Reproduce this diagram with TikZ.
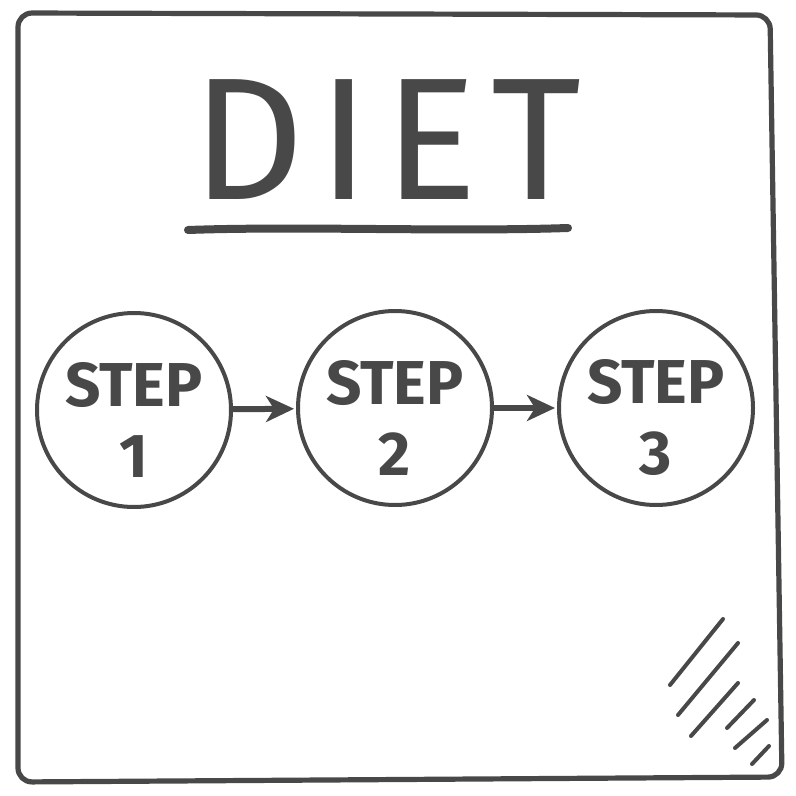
\documentclass[tikz,border=0pt]{standalone}
\usepackage{fontspec}
\setmainfont{Fira Sans}
\usepackage{tikz}
\usetikzlibrary{arrows, arrows.meta, positioning}
\usepackage{xcolor}
\definecolor{pencil}{HTML}{484848}

\begin{document}
\begin{tikzpicture}[x=0.5pt,y=-0.5pt,line cap=round,line join=round,
		steplabel/.style={text=pencil,font=\fontsize{31}{35.5}\selectfont\bfseries,align=center,yshift=-5pt},
		stepcircle/.style={circle,draw=pencil,line width=2pt,minimum size=97pt,inner sep=0pt,label={[steplabel]center:#1}},
		steparrow/.style={draw=pencil,line width=3pt,-{Stealth[length=14pt,width=13pt,inset=4pt]},shorten >=1pt},
		hatch/.style={draw=pencil,line width=2pt}]
				\useasboundingbox (0,0) rectangle (796,796);
				\draw[pencil,line width=2.6pt,rounded corners=7pt] (18,13) -- (770,15) -- (782,777) -- (18,782) -- cycle;
				\node[anchor=base,text=pencil,font=\fontsize{87}{90}\selectfont\addfontfeature{LetterSpace=8}] (title) at (387,200) {DIET};
				\draw[pencil,line width=4pt] (188,230) .. controls (300,226) and (450,232) .. (568,228);
				\node[stepcircle={STEP\\1}] (s1) at (134,410) {};
				\node[stepcircle={STEP\\2}] (s2) at (395,408) {};
				\node[stepcircle={STEP\\3}] (s3) at (656,408) {};
				\draw[steparrow] (s1) -- (s2);
				\draw[steparrow] (s2) -- (s3);
				\foreach \xa/\ya/\xb/\yb in {670/685/723/619, 678/715/738/643, 691/736/738/683, 727/728/754/700, 735/748/767/720, 752/764/769/746}
					\draw[hatch] (\xa,\ya) -- (\xb,\yb);
			\end{tikzpicture}
\end{document}
